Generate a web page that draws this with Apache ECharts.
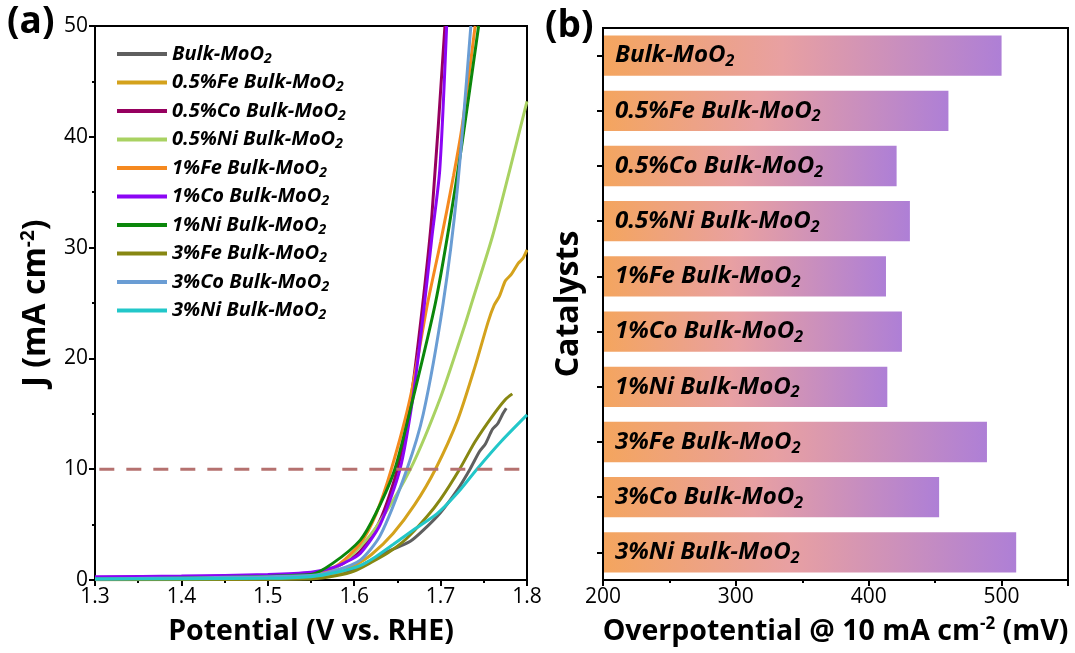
<!DOCTYPE html>
<html><head><meta charset="utf-8">
<script src="https://cdn.jsdelivr.net/npm/echarts@6/dist/echarts.min.js"></script>
<style>html,body{margin:0;padding:0;background:#fff}#c{width:1075px;height:653px}</style>
</head><body><div id="c"></div>
<script>
// ---------- Panel (a): LSV curves, [potential V vs RHE, J mA cm-2] ----------
const seriesNames = ['Bulk-MoO2','0.5%Fe Bulk-MoO2','0.5%Co Bulk-MoO2','0.5%Ni Bulk-MoO2','1%Fe Bulk-MoO2','1%Co Bulk-MoO2','1%Ni Bulk-MoO2','3%Fe Bulk-MoO2','3%Co Bulk-MoO2','3%Ni Bulk-MoO2'];
const seriesColors = ['#5f5f5f','#d4a21c','#96005f','#a9d262','#f5891f','#8c05f5','#0b870b','#878712','#6a9dd4','#22c7c9'];
const bulk   = [[1.3,0.05],[1.5,0.08],[1.55,0.15],[1.58,0.5],[1.6,1.0],[1.62,1.8],[1.64,2.6],[1.665,3.5],[1.68,4.5],[1.7,6.1],[1.72,8.2],[1.734,10],[1.745,11.6],[1.752,12.3],[1.76,13.6],[1.766,14.1],[1.772,15.0],[1.776,15.5]];
const fe05   = [[1.3,0.05],[1.55,0.15],[1.58,0.6],[1.6,1.3],[1.62,2.3],[1.645,4.2],[1.67,6.8],[1.694,10],[1.72,14.5],[1.74,19.3],[1.755,23.3],[1.762,24.8],[1.768,25.6],[1.775,27.0],[1.782,27.6],[1.79,28.6],[1.795,29.0],[1.8,29.8]];
const co05   = [[1.3,0.22],[1.5,0.4],[1.55,0.6],[1.58,1.2],[1.607,2.6],[1.63,5.4],[1.65,10],[1.665,16],[1.678,24],[1.69,33],[1.705,50]];
const ni05   = [[1.3,0.1],[1.55,0.4],[1.58,1.2],[1.607,3.0],[1.63,5.3],[1.665,10],[1.7,16.5],[1.728,23],[1.736,25],[1.76,31],[1.78,37],[1.8,43.2]];
const fe1    = [[1.3,0.1],[1.55,0.45],[1.58,1.3],[1.607,3.3],[1.625,5.9],[1.643,10],[1.665,16.5],[1.685,25],[1.7,30.5],[1.715,36.5],[1.725,41],[1.74,50]];
const co1    = [[1.3,0.3],[1.4,0.35],[1.5,0.5],[1.55,0.7],[1.575,1.1],[1.59,1.6],[1.607,2.4],[1.63,5.0],[1.653,10],[1.668,16.5],[1.68,24],[1.69,31],[1.699,37],[1.707,50]];
const ni1    = [[1.3,0.1],[1.55,0.5],[1.575,1.5],[1.607,3.6],[1.625,6.0],[1.647,10],[1.67,17],[1.694,25],[1.71,32],[1.725,39.5],[1.744,50]];
const fe3    = [[1.3,0.02],[1.55,0.1],[1.58,0.4],[1.6,0.8],[1.62,1.6],[1.64,2.5],[1.66,3.7],[1.684,5.7],[1.7,7.3],[1.722,10],[1.74,12.5],[1.76,14.8],[1.775,16.3],[1.783,16.8]];
const co3    = [[1.3,0.1],[1.55,0.4],[1.58,0.9],[1.607,1.8],[1.63,4.0],[1.661,10],[1.68,15],[1.703,25],[1.719,35],[1.735,50]];
const ni3    = [[1.3,0.1],[1.5,0.15],[1.55,0.3],[1.58,0.7],[1.607,1.3],[1.625,2.1],[1.645,3.2],[1.67,4.6],[1.696,6.0],[1.72,7.9],[1.742,10],[1.77,12.5],[1.8,14.9]];
const curves = [bulk, fe05, co05, ni05, fe1, co1, ni1, fe3, co3, ni3];
const refLine = [[1.305,10],[1.795,10]];   // J = 10 mA cm-2 guide
const xTicksA = {min:1.3, max:1.8, interval:0.1};
const yTicksA = {min:0, max:50, interval:10};

// ---------- Panel (b): overpotential @ 10 mA cm-2 (mV) ----------
const catalysts = ['Bulk-MoO2','0.5%Fe Bulk-MoO2','0.5%Co Bulk-MoO2','0.5%Ni Bulk-MoO2','1%Fe Bulk-MoO2','1%Co Bulk-MoO2','1%Ni Bulk-MoO2','3%Fe Bulk-MoO2','3%Co Bulk-MoO2','3%Ni Bulk-MoO2'];
const overpotential = [500, 460, 421, 431, 413, 425, 414, 489, 453, 511];
const xTicksB = {min:200, max:550, interval:100};

const FONT = '"Open Sans", "Noto Sans", sans-serif';
const subFmt = (size, lh) => ({
  t: {fontFamily: FONT, fontSize: size, fontWeight: 'bold', fontStyle: 'italic', color: '#000', lineHeight: lh},
  s: {fontFamily: FONT, fontSize: Math.round(size*0.68), fontWeight: 'bold', fontStyle: 'italic', color: '#000', verticalAlign: 'bottom', lineHeight: Math.round(lh*0.55)}
});
const subLabel = (name) => '{t|' + name.replace(/MoO2$/, 'MoO') + '}{s|2}';
const titleRich = {
  t: {fontFamily: FONT, fontSize: 28.5, fontWeight: 'bold', color: '#000', lineHeight: 32},
  p: {fontFamily: FONT, fontSize: 17, fontWeight: 'bold', color: '#000', verticalAlign: 'top', lineHeight: 17}
};

const axisCommon = {
  axisLine: {show: true, onZero: false, lineStyle: {color: '#000', width: 2}},
  axisTick: {show: true, length: 6, lineStyle: {color: '#000', width: 2}},
  minorTick: {show: true, splitNumber: 2, length: 3, lineStyle: {color: '#000', width: 2}},
  splitLine: {show: false},
  axisLabel: {fontFamily: FONT, fontSize: 21, color: '#000'},
  nameLocation: 'middle'
};

const lineSeries = curves.map((d, i) => ({
  name: seriesNames[i], type: 'line', xAxisIndex: 0, yAxisIndex: 0,
  data: d, showSymbol: false, symbol: 'none', smooth: 0.25,
  lineStyle: {color: seriesColors[i], width: 3}, itemStyle: {color: seriesColors[i]}, z: 3
}));

const chart = echarts.init(document.getElementById('c'), null, {renderer: 'canvas'});
chart.setOption({
  backgroundColor: '#fff',
  animation: false,
  grid: [
    {left: 95, top: 26, width: 432, height: 554, show: true, borderColor: '#000', borderWidth: 2},
    {left: 603, top: 28, width: 465, height: 552, show: true, borderColor: '#000', borderWidth: 2}
  ],
  legend: {
    data: seriesNames, orient: 'vertical', left: 117, top: 44, padding: 0,
    icon: 'rect', itemWidth: 50, itemHeight: 4, itemGap: 6.5,
    formatter: subLabel,
    textStyle: {rich: subFmt(20, 24)}
  },
  xAxis: [
    Object.assign({}, axisCommon, {
      type: 'value', gridIndex: 0, min: xTicksA.min, max: xTicksA.max, interval: xTicksA.interval,
      axisLabel: Object.assign({}, axisCommon.axisLabel, {margin: 7, formatter: v => v.toFixed(1)}),
      name: '{t|Potential (V vs. RHE)}', nameGap: 36,
      nameTextStyle: {rich: titleRich}
    }),
    Object.assign({}, axisCommon, {
      type: 'value', gridIndex: 1, min: xTicksB.min, max: xTicksB.max, interval: xTicksB.interval,
      axisLabel: Object.assign({}, axisCommon.axisLabel, {margin: 7,
        formatter: v => (v > 500 ? '' : String(v))}),
      name: '{t|Overpotential @ 10 mA cm}{p|-2}{t| (mV)}', nameGap: 36,
      nameTextStyle: {rich: titleRich}
    })
  ],
  yAxis: [
    Object.assign({}, axisCommon, {
      type: 'value', gridIndex: 0, min: yTicksA.min, max: yTicksA.max, interval: yTicksA.interval,
      axisLabel: Object.assign({}, axisCommon.axisLabel, {margin: 7}),
      name: '{t|J (mA cm}{p|-2}{t|)}', nameGap: 42,
      nameTextStyle: {rich: {
        t: {fontFamily: FONT, fontSize: 32, fontWeight: 'bold', color: '#000', lineHeight: 34},
        p: {fontFamily: FONT, fontSize: 19, fontWeight: 'bold', color: '#000', verticalAlign: 'top', lineHeight: 18}
      }}
    }),
    {
      type: 'category', gridIndex: 1, data: catalysts, inverse: true, z: 10,
      axisLine: {show: true, lineStyle: {color: '#000', width: 2}},
      axisTick: {show: true, alignWithLabel: true, length: 6, lineStyle: {color: '#000', width: 2}},
      axisLabel: {inside: true, margin: 12, formatter: subLabel, rich: subFmt(24, 28)},
      name: 'Catalysts', nameLocation: 'middle', nameGap: 18,
      nameTextStyle: {fontFamily: FONT, fontSize: 32, fontWeight: 'bold', color: '#000'}
    }
  ],
  series: lineSeries.concat([
    {
      name: 'ref', type: 'line', xAxisIndex: 0, yAxisIndex: 0, data: refLine,
      showSymbol: false, symbol: 'none', silent: true, z: 4,
      lineStyle: {color: '#b5716f', width: 3, type: [15, 12]}
    },
    {
      name: 'base', type: 'bar', xAxisIndex: 1, yAxisIndex: 1, stack: 'b', silent: true,
      data: overpotential.map(() => xTicksB.min),
      itemStyle: {color: 'rgba(0,0,0,0)'}, barCategoryGap: '27%'
    },
    {
      name: 'overpotential', type: 'bar', xAxisIndex: 1, yAxisIndex: 1, stack: 'b',
      data: overpotential.map(v => v - xTicksB.min), barCategoryGap: '27%',
      itemStyle: {color: new echarts.graphic.LinearGradient(0, 0, 1, 0, [
        {offset: 0, color: '#f4a55e'}, {offset: 0.45, color: '#e8a0a2'}, {offset: 1, color: '#ae7fd6'}
      ])}
    }
  ]),
  graphic: [
    {type: 'text', left: 7, top: 4, style: {text: '(a)', fontFamily: FONT, fontSize: 37, fontWeight: 'bold', fill: '#000'}},
    {type: 'text', left: 545, top: 8, style: {text: '(b)', fontFamily: FONT, fontSize: 37, fontWeight: 'bold', fill: '#000'}}
  ]
});
</script></body></html>
